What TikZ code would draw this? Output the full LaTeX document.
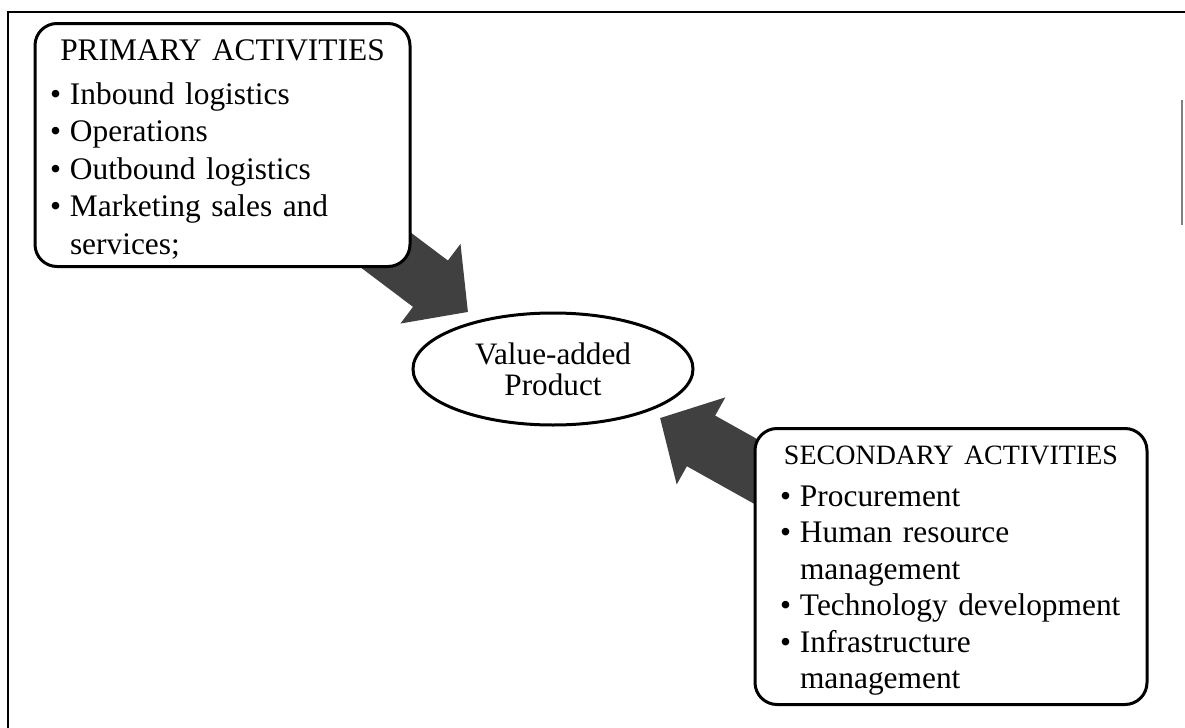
\documentclass[tikz,border=0pt]{standalone}
\usepackage{fontspec}
\setmainfont{Liberation Serif}
\usetikzlibrary{shapes.geometric,arrows.meta,backgrounds,calc}
\hyphenpenalty=10000
\newcommand\bul{\makebox[10pt][l]{\textbullet}}
\newcommand\cont{\hspace*{10pt}}

\begin{document}
\begin{tikzpicture}[x=.5pt,y=-.5pt,
	actbox/.style={draw,fill=white,line width=1.5pt,rounded corners=11pt,align=left,inner ysep=0pt,
		anchor=north},
	valnode/.style={ellipse,draw,fill=white,line width=1.5pt,inner sep=0pt,
		minimum width=140pt,minimum height=56pt,align=center,font=\fontsize{15.6}{15.6}\selectfont},
	bigarrow/.style={line width=29pt,draw=black!75,-{Triangle[length=23.5pt,width=48.5pt]}}]
	\useasboundingbox (0,0) rectangle (1185,728);
	
	\draw[line width=1pt] (8,728) -- (8,12) -- (1185,12);
	\draw[gray,line width=.8pt] (1182,100) -- (1182,225);
	
	\node[actbox,text width=172.5pt,inner xsep=7.5pt,text height=18.5pt,text depth=103pt,
		font=\fontsize{15.7}{18.7}\selectfont] (prim) at (222.5,22)
		{{\centering PRIMARY ACTIVITIES\par}\vspace{3.3pt}
		\bul Inbound logistics\\
		\bul Operations\\
		\bul Outbound logistics\\
		\bul Marketing sales and\\
		\cont services;};
	\node[actbox,text width=171pt,inner xsep=12.5pt,text height=18pt,text depth=120pt,
		font=\fontsize{15.7}{18.2}\selectfont] (sec) at (951,427)
		{{\centering\fontsize{14}{17}\selectfont SECONDARY ACTIVITIES\par}\vspace{2.8pt}
		\bul Procurement\\
		\bul Human resource\\
		\cont management\\
		\bul Technology development\\
		\bul Infrastructure\\
		\cont management};
	\node[valnode] (val) at (553,369) {Value-added\\Product};
	
	\coordinate (ptip) at (468,312);
	\coordinate (stip) at (660,418);
	\begin{scope}[on background layer]
		\draw[bigarrow] ($(prim.south east)+(-43,-31)$) -- (ptip);
		\draw[bigarrow] ($(sec.north west)+(30,60)$) -- (stip);
	\end{scope}
\end{tikzpicture}
\end{document}
